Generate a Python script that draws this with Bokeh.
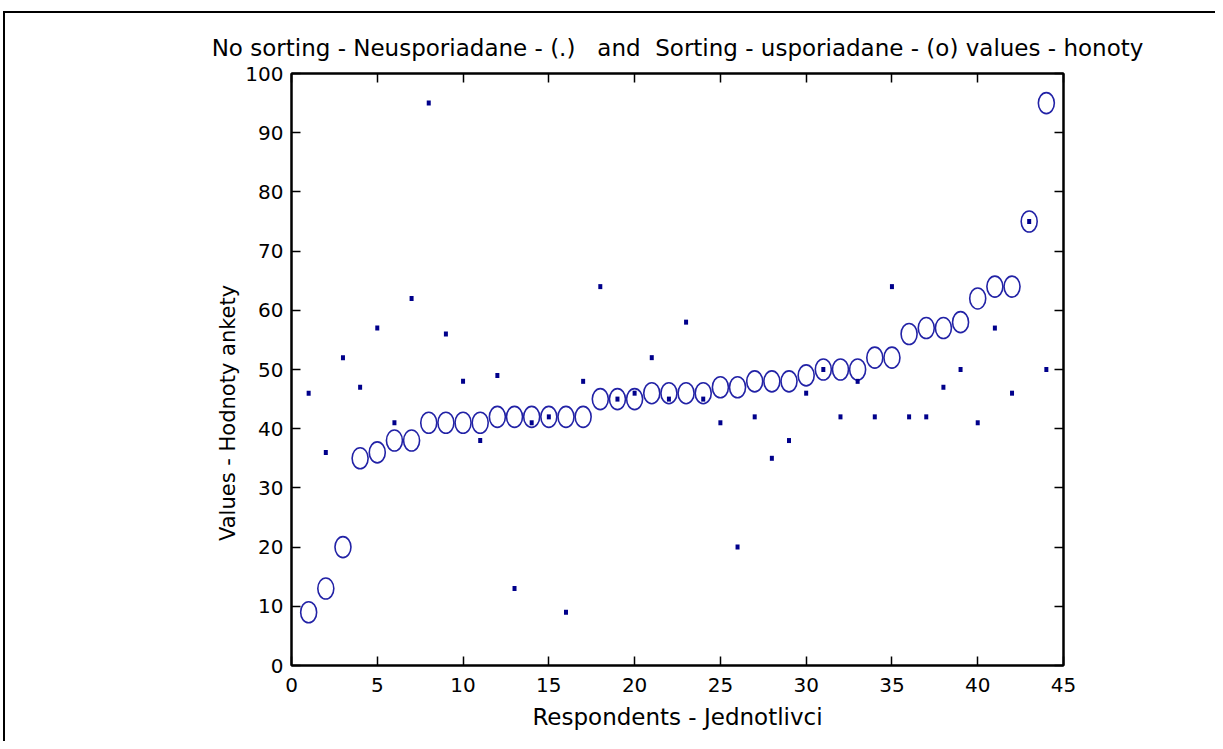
from bokeh.plotting import figure
from bokeh.models import Range1d, FixedTicker, LinearAxis, CustomJSTickFormatter, ColumnDataSource
from bokeh.embed import file_html
from bokeh.resources import INLINE

respondents = list(range(1, 45))
unsorted_values = [46, 36, 52, 47, 57, 41, 62, 95, 56, 48, 38, 49, 13, 41, 42, 9,
                   48, 64, 45, 46, 52, 45, 58, 45, 41, 20, 42, 35, 38, 46, 50, 42,
                   48, 42, 64, 42, 42, 47, 50, 41, 57, 46, 75, 50]
sorted_values = sorted(unsorted_values)
x_ticks = [0, 5, 10, 15, 20, 25, 30, 35, 40, 45]
y_ticks = [0, 10, 20, 30, 40, 50, 60, 70, 80, 90, 100]

FONT = "DejaVu Sans"
NB = "\u00a0"
title_text = ("No sorting - Neusporiadane - (.)" + NB * 3 + "and" + NB * 2 +
              "Sorting - usporiadane - (o) values - honoty")

W, H = 1215, 741
p = figure(width=W, height=H, output_backend="svg", toolbar_location=None,
           x_range=Range1d(0, 45), y_range=Range1d(0, 100),
           min_border_left=291, min_border_right=152, min_border_top=73, min_border_bottom=76,
           title=title_text)
p.border_fill_color = None
p.styles = {"background": ("linear-gradient(#000,#000) 3px 11px / 2px 100% no-repeat, "
                           "linear-gradient(#000,#000) 3px 11px / 100% 2px no-repeat, #fff")}
p.background_fill_color = "white"
p.grid.visible = False
p.outline_line_color = "black"
p.outline_line_width = 2

p.title.text_font = FONT
p.title.text_font_size = "23px"
p.title.text_font_style = "normal"
p.title.align = "center"
p.title.text_color = "black"
p.title.standoff = 26

bx = p.below[0]
ly = p.left[0]

for ax in (bx, ly):
    ax.major_label_text_font = FONT
    ax.major_label_text_font_size = "20px"
    ax.major_label_text_color = "black"
    ax.axis_label_text_font = FONT
    ax.axis_label_text_font_style = "normal"
    ax.axis_label_text_color = "black"

bx.axis_label_text_font_size = "23px"
ly.axis_label_text_font_size = "21px"
bx.ticker = FixedTicker(ticks=x_ticks)
ly.ticker = FixedTicker(ticks=y_ticks)
bx.axis_label = "Respondents - Jednotlivci"
ly.axis_label = "Values - Hodnoty ankety" + NB * 13

top = LinearAxis(ticker=FixedTicker(ticks=x_ticks), formatter=CustomJSTickFormatter(code="return ''"))
right = LinearAxis(ticker=FixedTicker(ticks=y_ticks), formatter=CustomJSTickFormatter(code="return ''"))
p.add_layout(top, "above")
p.add_layout(right, "right")

for ax in (bx, ly, top, right):
    ax.major_tick_in = 9
    ax.major_tick_out = 0
    ax.minor_tick_in = 0
    ax.minor_tick_out = 0
    ax.major_tick_line_width = 1.5
    ax.major_tick_line_color = "black"
    ax.axis_line_color = "black"
    ax.axis_line_width = 2
    ax.major_label_standoff = 0

bx.major_label_standoff = 12
ly.major_label_standoff = 8
bx.axis_label_standoff = 9
ly.axis_label_standoff = 2

src_u = ColumnDataSource(dict(x=respondents, y=unsorted_values))
src_s = ColumnDataSource(dict(x=respondents, y=sorted_values))

p.ellipse(x="x", y="y", width=16, height=21, width_units="screen", height_units="screen",
          source=src_s, fill_color=None, line_color="#2222a6", line_width=1.6)
p.rect(x="x", y="y", width=4, height=5, width_units="screen", height_units="screen",
       source=src_u, fill_color="#00008b", line_color=None)

open("out.html", "w").write(file_html(p, INLINE))
